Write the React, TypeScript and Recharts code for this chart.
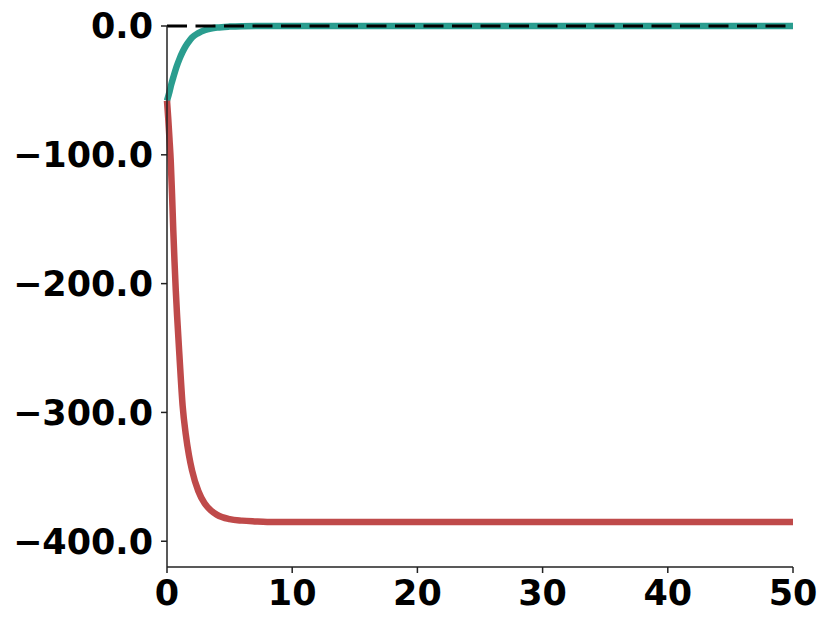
import React from 'react';
import { LineChart, Line, XAxis, YAxis, ReferenceLine } from 'recharts';

// time points (x) and values
const greenT = [0, 0.2, 0.35, 0.5, 0.75, 1.0, 1.25, 1.5, 1.75, 2.0, 2.5, 3.0, 3.5, 4.0, 5.0, 6.0, 8.0, 10, 20, 30, 40, 50];
const greenV = [-58, -51, -45, -40, -32, -25.5, -20, -15.5, -12, -9, -5.5, -3.3, -2, -1.2, -0.45, -0.15, -0.02, 0, 0, 0, 0, 0];

const redT = [0, 0.1, 0.2, 0.3, 0.4, 0.5, 0.6, 0.7, 0.8, 1.0, 1.25, 1.5, 1.75, 2.0, 2.5, 3.0, 3.5, 4.0, 5.0, 6.0, 7.0, 8.0, 10, 20, 30, 40, 50];
const redV = [-58, -72, -88, -105, -130, -158, -183, -205, -224, -257, -295, -317, -333, -345, -361, -370.5, -376, -379.5, -382.8, -384, -384.6, -385, -385, -385, -385, -385, -385];

const xTicks = [0, 10, 20, 30, 40, 50];
const yTicks = [-400, -300, -200, -100, 0];

const greenData = greenT.map((t, i) => ({ t, v: greenV[i] }));
const redData = redT.map((t, i) => ({ t, v: redV[i] }));

const tickStyle = {
  fontFamily: 'DejaVu Sans',
  fontWeight: 'bold',
  fontSize: 35,
  fill: '#000',
};

const fmtY = (v: number) => (v < 0 ? '\u2212' : '') + Math.abs(v).toFixed(1);

export default function App() {
  return (
    <div style={{ position: 'absolute', left: 0, top: 0, width: 831, height: 627, background: '#fff' }}>
      <LineChart width={831} height={627} margin={{ top: 26, right: 38, left: 0, bottom: 0 }}>
        <XAxis
          type="number"
          dataKey="t"
          domain={[0, 50]}
          ticks={xTicks}
          height={60}
          tick={tickStyle}
          tickSize={6}
          tickMargin={7}
          stroke="#222"
          strokeWidth={1.5}
        />
        <YAxis
          type="number"
          dataKey="v"
          domain={[-420, 0]}
          ticks={yTicks}
          width={167}
          tick={tickStyle}
          tickFormatter={fmtY}
          tickSize={6}
          tickMargin={8}
          stroke="#222"
          strokeWidth={1.5}
        />
        <Line
          data={greenData}
          dataKey="v"
          type="monotone"
          stroke="#2A9D8F"
          strokeWidth={6.5}
          dot={false}
          isAnimationActive={false}
        />
        <Line
          data={redData}
          dataKey="v"
          type="monotone"
          stroke="#BF4A4A"
          strokeWidth={6.5}
          dot={false}
          isAnimationActive={false}
        />
        <ReferenceLine y={0} stroke="#000" strokeWidth={3} strokeDasharray="20 8.5" />
      </LineChart>
    </div>
  );
}
